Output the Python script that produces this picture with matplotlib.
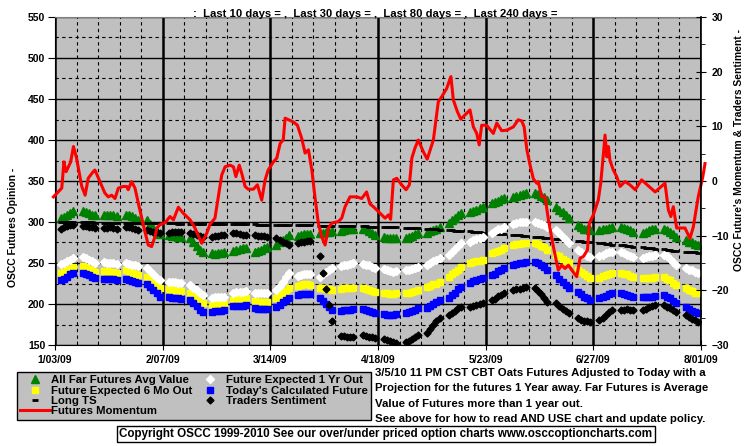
import numpy as np
import pandas as pd
import matplotlib
matplotlib.use('Agg')
import matplotlib.pyplot as plt

plt.rcParams['font.family'] = ['Liberation Sans', 'DejaVu Sans']
plt.rcParams['font.weight'] = 'bold'

# x axis: days counted from Sat 1/03/09
start = pd.Timestamp('2009-01-03')
tick_days = [0, 35, 70, 105, 140, 175, 210]
tick_labels = ['1/03/09', '2/07/09', '3/14/09', '4/18/09', '5/23/09', '6/27/09', '8/01/09']

# one value per trading day, Jan 5 .. Jul 31 (5 per row = one week)
trade_days = pd.bdate_range('2009-01-05', '2009-07-31')

far_futures = [
    305, 306, 308, 311, 314,  313, 312, 311, 309, 308,  308, 309, 309, 308, 307,
    308, 308, 307, 305, 303,  302, 298, 293, 288, 285,  284, 283, 283, 282, 282,
    280, 276, 271, 266, 263,  262, 261, 262, 262, 263,  265, 266, 267, 268, 268,
    263, 265, 266, 268, 270,  272, 275, 278, 281, 284,  283, 284, 285, 285, 285,
    286, 287, 288, 288, 289,  289, 290, 291, 291, 291,  292, 291, 289, 286, 284,
    282, 281, 280, 281, 281,  281, 282, 283, 285, 286,  287, 289, 290, 292, 294,
    299, 302, 305, 308, 311,  312, 314, 315, 317, 318,  323, 325, 326, 328, 329,
    331, 332, 333, 334, 335,  335, 334, 332, 330, 327,  318, 315, 312, 308, 305,
    296, 294, 292, 291, 290,  290, 291, 292, 293, 294,  294, 293, 291, 290, 288,
    287, 288, 290, 291, 292,  292, 290, 288, 285, 282,  278, 276, 275, 273, 272,
]
six_mo = [
    238, 239, 241, 243, 245,  246, 245, 243, 241, 239,  240, 240, 239, 239, 238,
    241, 240, 238, 236, 235,  233, 229, 226, 222, 219,  218, 217, 217, 216, 216,
    213, 210, 207, 204, 201,  199, 199, 200, 200, 201,  205, 206, 206, 206, 207,
    204, 203, 202, 202, 203,  207, 210, 213, 216, 219,  222, 223, 224, 224, 223,
    220, 219, 218, 218, 217,  218, 219, 219, 219, 219,  219, 218, 217, 216, 215,
    214, 213, 212, 212, 213,  213, 214, 215, 216, 217,  221, 222, 224, 225, 227,
    233, 236, 239, 242, 245,  250, 251, 252, 253, 254,  262, 263, 265, 266, 268,
    272, 273, 273, 274, 274,  274, 273, 271, 269, 266,  260, 258, 255, 252, 250,
    241, 239, 237, 234, 232,  232, 234, 235, 237, 238,  238, 237, 236, 234, 233,
    232, 232, 232, 232, 233,  233, 231, 229, 226, 223,  219, 217, 216, 214, 213,
]
one_yr = [
    249, 250, 252, 254, 256,  257, 256, 254, 252, 250,  251, 250, 250, 250, 249,
    250, 249, 248, 247, 246,  244, 240, 236, 232, 229,  227, 227, 227, 226, 226,
    223, 220, 217, 214, 211,  207, 208, 208, 209, 209,  214, 215, 215, 215, 216,
    213, 213, 213, 213, 214,  217, 222, 227, 233, 238,  234, 235, 236, 236, 236,
    233, 236, 239, 241, 244,  246, 247, 248, 249, 250,  249, 248, 247, 245, 244,
    243, 241, 240, 239, 240,  241, 242, 243, 244, 245,  248, 250, 252, 254, 256,
    260, 264, 267, 271, 274,  276, 278, 279, 281, 282,  287, 289, 291, 292, 294,
    298, 299, 300, 300, 300,  300, 299, 298, 296, 294,  290, 286, 282, 278, 274,
    266, 263, 261, 259, 257,  259, 260, 262, 263, 264,  264, 262, 260, 259, 257,
    256, 257, 258, 259, 260,  260, 258, 255, 251, 248,  244, 242, 241, 239, 238,
]
todays_calc = [
    229, 231, 233, 236, 238,  238, 237, 235, 233, 232,  231, 230, 230, 230, 229,
    230, 229, 228, 227, 226,  225, 221, 217, 213, 209,  208, 207, 207, 207, 206,
    205, 201, 197, 193, 190,  190, 191, 191, 192, 193,  197, 198, 198, 198, 199,
    195, 194, 194, 194, 194,  196, 199, 202, 205, 207,  211, 212, 212, 212, 212,
    207, 204, 200, 196, 193,  192, 193, 193, 193, 194,  194, 193, 192, 190, 189,
    188, 187, 187, 187, 188,  189, 190, 192, 193, 195,  195, 197, 200, 202, 205,
    207, 211, 214, 218, 221,  226, 228, 229, 231, 232,  235, 237, 240, 242, 244,
    248, 249, 250, 250, 251,  251, 250, 248, 245, 241,  235, 231, 227, 223, 219,
    215, 212, 209, 207, 205,  207, 209, 210, 212, 213,  213, 212, 211, 210, 209,
    209, 209, 209, 209, 210,  211, 209, 207, 204, 201,  196, 194, 192, 190, 189,
]
long_ts = [
    300.0, 299.9, 299.9, 299.8, 299.7,  299.6, 299.5, 299.5, 299.4, 299.3,
    299.3, 299.2, 299.1, 299.1, 299.0,  299.0, 298.9, 298.9, 298.8, 298.7,
    298.7, 298.6, 298.6, 298.5, 298.4,  298.4, 298.3, 298.2, 298.1, 298.0,
    298.0, 297.9, 297.8, 297.7, 297.6,  297.6, 297.5, 297.5, 297.4, 297.3,
    297.3, 297.2, 297.2, 297.1, 297.0,  297.0, 296.9, 296.8, 296.7, 296.6,
    296.6, 296.5, 296.4, 296.3, 296.2,  296.2, 296.1, 296.0, 295.9, 295.8,
    295.7, 295.6, 295.5, 295.4, 295.3,  295.2, 295.1, 295.0, 294.9, 294.8,
    294.7, 294.6, 294.5, 294.4, 294.3,  294.2, 294.0, 293.8, 293.6, 293.4,
    293.2, 293.0, 292.7, 292.5, 292.2,  292.0, 291.7, 291.4, 291.0, 290.7,
    290.4, 290.0, 289.6, 289.2, 288.8,  288.5, 288.1, 287.7, 287.3, 286.9,
    286.5, 286.1, 285.7, 285.3, 284.9,  284.5, 284.1, 283.6, 283.2, 282.7,
    282.3, 281.8, 281.3, 280.8, 280.3,  279.8, 279.3, 278.8, 278.2, 277.7,
    277.2, 276.7, 276.2, 275.6, 275.1,  274.6, 274.1, 273.6, 273.0, 272.5,
    272.0, 271.5, 271.0, 270.4, 269.9,  269.4, 268.9, 268.4, 267.8, 267.3,
    266.8, 266.3, 265.8, 265.2, 264.7,  264.0, 263.6, 263.3, 262.9, 262.5,
]
traders_sent = [
    -8.7, -8.5, -8.3, -8.1, -8.0,  -8.2, -8.3, -8.4, -8.5, -8.6,  -8.6, -8.6, -8.5, -8.6, -8.7,
    -8.4, -8.5, -8.6, -8.8, -9.0,  -9.0, -9.1, -9.3, -9.4, -9.5,  -9.5, -9.4, -9.4, -9.3, -9.3,
    -9.5, -9.7, -9.9, -10.1, -10.2,  -10.2, -10.1, -10.0, -9.9, -9.9,  -9.5, -9.6, -9.7, -9.8, -9.9,
    -9.9, -10.0, -10.1, -10.1, -10.2,  -10.4, -10.8, -11.1, -11.4, -11.7,  -11.3, -11.2, -11.1, -11.0, -11.0,
    -13.7, -16.8, -19.7, -22.7, -25.6,  -28.3, -28.4, -28.5, -28.6, -28.6,  -28.2, -28.3, -28.5, -28.6, -28.7,
    -28.9, -29.1, -29.3, -29.5, -29.6,  -29.4, -29.2, -28.9, -28.5, -28.2,  -27.8, -27.1, -26.4, -25.7, -25.1,
    -24.5, -24.1, -23.7, -23.3, -23.0,  -23.0, -22.8, -22.6, -22.5, -22.3,  -21.8, -21.5, -21.1, -20.8, -20.5,
    -20.0, -19.8, -19.7, -19.5, -19.4,  -19.6, -20.1, -20.7, -21.4, -22.1,  -22.3, -22.9, -23.4, -23.8, -24.1,
    -25.1, -25.4, -25.6, -25.7, -25.8,  -25.4, -25.0, -24.5, -24.0, -23.6,  -23.6, -23.6, -23.5, -23.6, -23.6,
    -23.6, -23.4, -23.1, -22.9, -22.7,  -22.7, -23.0, -23.3, -23.6, -24.0,  -24.5, -24.8, -25.2, -25.5, -25.8,
]

# futures momentum, read point by point (day offset, value)
momentum_day = [
    -0.5, 2.2, 2.9, 3.6, 4.2, 5.1, 6.0, 7.0, 8.7, 9.8, 10.8, 12.4, 13.0, 14.6, 16.2, 17.3,
    18.4, 19.5, 20.6, 22.2, 23.3, 23.8, 24.9, 26.0, 27.1, 28.7, 30.3, 31.4, 32.5, 33.1,
    34.1, 35.8, 37.4, 38.5, 40.1, 41.7, 43.9, 45.5, 47.7, 49.3, 50.4, 52.0, 53.1, 54.2,
    55.3, 56.9, 58.0, 58.8, 59.9, 60.7, 61.8, 62.8, 64.5, 65.8, 67.2, 68.3, 69.3, 71.0,
    72.1, 73.2, 74.2, 74.8, 75.9, 77.5, 78.8, 80.2, 81.3, 82.4, 83.5, 84.5, 85.6, 86.7,
    87.8, 88.9, 90.0, 92.1, 93.2, 94.3, 95.9, 98.1, 99.7, 101.3, 102.4, 103.5, 104.6,
    105.7, 107.3, 108.4, 109.1, 110.0, 111.1, 112.7, 114.1, 115.2, 116.0, 117.0, 118.1,
    119.7, 121.0, 123.0, 124.6, 125.7, 127.3, 128.7, 129.5, 130.8, 131.9, 133.3, 134.9,
    136.0, 137.1, 137.9, 138.7, 140.3, 142.5, 143.6, 145.2, 146.9, 149.0, 150.6, 151.7,
    152.5, 153.4, 154.4, 155.5, 156.6, 157.1, 158.2, 159.3, 160.4, 162.0, 163.6, 164.7,
    165.8, 166.9, 168.0, 169.6, 170.7, 171.8, 173.1, 173.7, 175.0, 176.6, 177.4, 178.3,
    178.8, 179.4, 179.9, 180.4, 181.5, 182.6, 183.7, 185.3, 186.9, 188.6, 190.7, 192.9,
    195.1, 196.7, 198.3, 199.4, 200.2, 201.0, 202.1, 204.8, 206.4, 207.5, 209.1, 210.6, 211.3,
]
momentum_val = [
    -2.9, -1.3, 3.5, 1.7, 2.4, 3.5, 6.3, 4.2, -1.0, -2.6, 0.5, 1.7, 2.0, -0.1, -2.2, -2.9,
    -2.6, -3.2, -1.3, -1.0, -1.0, -1.6, -0.1, -1.3, -4.1, -8.0, -11.7, -12.0, -10.2, -8.6,
    -8.0, -7.6, -6.5, -7.1, -4.8, -5.9, -7.1, -8.6, -11.4, -9.6, -7.9, -6.8, -2.9, 1.1,
    2.6, 2.9, 2.6, 0.8, 2.9, 1.4, -1.0, -1.5, -1.5, -0.7, -3.5, 0.2, 2.0, 3.5,
    4.2, 6.9, 7.5, 11.5, 11.2, 10.8, 10.2, 7.8, 5.1, 5.7, 2.0, -2.9, -7.7, -10.2,
    -11.7, -8.6, -7.7, -7.4, -6.8, -4.7, -2.9, -2.9, -3.2, -2.0, -4.2, -4.7, -5.3,
    -5.9, -6.8, -6.2, -7.0, 0.2, 0.5, -0.7, -1.6, -0.7, 4.2, 6.0, 7.5,
    5.4, 4.0, 7.5, 14.5, 15.4, 16.9, 19.1, 14.8, 12.7, 11.3, 12.1, 13.0,
    9.9, 8.7, 6.6, 10.2, 10.2, 8.7, 10.6, 9.2, 9.3, 9.9, 11.2, 11.0,
    9.9, 5.7, 3.0, 0.4, -0.4, -0.1, -2.9, -2.9, -7.1, -12.0, -16.3, -15.4,
    -16.0, -15.4, -16.3, -17.5, -14.1, -13.8, -12.6, -7.7, -6.2, -3.5, -0.4, 5.1,
    8.4, 4.4, 6.3, 3.8, 2.0, 0.8, -1.0, -0.1, -0.7, -1.6, 0.2, -0.9,
    -2.0, -1.2, -0.4, -5.3, -6.5, -4.7, -8.6, -8.6, -10.5, -8.4, -2.9, 0.8, 3.2,
]

x_days = np.array((trade_days - start).days)

fig = plt.figure(figsize=(7.55, 4.46), dpi=100)
ax = fig.add_axes([55 / 755, 1 - 345 / 446, 646 / 755, 328 / 446])
ax.set_facecolor('#C0C0C0')
ax.set_axisbelow(True)

h_far, = ax.plot(x_days, far_futures, ls='none', marker='^', ms=5.5,
                 color='#008000', mec='#008000', label='All Far Futures Avg Value')
h_6mo, = ax.plot(x_days, six_mo, ls='none', marker='s', ms=5,
                 color='#FFFF00', mec='#FFFF00', label='Future Expected 6 Mo Out')
h_ts, = ax.plot(x_days, long_ts, ls='none', marker='_', ms=5, mew=2,
                color='black', label='Long TS')
h_1yr, = ax.plot(x_days, one_yr, ls='none', marker='D', ms=3.8,
                 color='white', mec='white', label='Future Expected 1 Yr Out')
h_calc, = ax.plot(x_days, todays_calc, ls='none', marker='s', ms=4.5,
                  color='#0000FF', mec='#0000FF', label="Today's Calculated Future")

ax.set_xlim(0, 210)
ax.set_ylim(150, 550)
ax.set_xticks(tick_days)
ax.set_xticklabels(tick_labels)
ax.set_xticks(range(0, 211, 7), minor=True)
ax.set_yticks(range(150, 551, 50))
ax.set_yticks(range(175, 551, 50), minor=True)
ax.grid(which='major', axis='x', color='black', lw=1.8)
ax.grid(which='major', axis='y', color='black', lw=1.0)
ax.grid(which='minor', color='black', lw=0.8, ls=(0, (3, 3)))
ax.tick_params(axis='x', which='major', direction='inout', length=7, labelsize=7.5, pad=4)
ax.tick_params(axis='x', which='minor', direction='in', length=3)
ax.tick_params(axis='y', which='major', direction='out', length=5, labelsize=7.5, pad=2)
ax.tick_params(axis='y', which='minor', length=0)
ax.spines['top'].set_color('#808080')
ax.spines['right'].set_visible(False)

ax2 = ax.twinx()
h_sent, = ax2.plot(x_days, traders_sent, ls='none', marker='D', ms=3.5,
                   color='black', label='Traders Sentiment')
h_mom, = ax2.plot(momentum_day, momentum_val, color='#FF0000', lw=2.2,
                  label='Futures Momentum', clip_on=False)
ax2.set_ylim(-30, 30)
ax2.set_yticks(range(-30, 31, 10))
ax2.set_yticks(range(-25, 31, 10), minor=True)
ax2.tick_params(axis='y', which='major', direction='inout', length=7, labelsize=7.5, pad=4)
ax2.tick_params(axis='y', which='minor', direction='out', length=3)
ax2.spines['top'].set_visible(False)
ax2.spines['left'].set_visible(False)
ax2.spines['bottom'].set_visible(False)
ax2.spines['right'].set_linewidth(1.2)

fig.text(375 / 755, 1 - 14 / 446,
         ':  Last 10 days = ,  Last 30 days = ,  Last 80 days = ,  Last 240 days =',
         ha='center', va='center', fontsize=8.1)
fig.text(13 / 755, 1 - 227 / 446, 'OSCC Futures Opinion -', rotation=90,
         ha='center', va='center', fontsize=7.5)
fig.text(739 / 755, 1 - 150 / 446, "OSCC Future's Momentum & Traders Sentiment -",
         rotation=90, ha='center', va='center', fontsize=7.5)

leg = fig.legend(handles=[h_far, h_6mo, h_ts, h_mom, h_1yr, h_calc, h_sent],
                 ncol=2, loc='upper left', bbox_to_anchor=(17 / 755, 1 - 372 / 446),
                 fontsize=8.2, frameon=True, fancybox=False, framealpha=1,
                 facecolor='#C0C0C0', edgecolor='black', numpoints=1,
                 handlelength=2.6, handletextpad=0.1, labelspacing=0.02,
                 borderpad=0.3, columnspacing=0.2, borderaxespad=0)
leg.get_frame().set_linewidth(1.0)

notes = ['3/5/10 11 PM CST CBT Oats Futures Adjusted to Today with a',
         'Projection for the futures 1 Year away. Far Futures is Average',
         'Value of Futures more than 1 year out.',
         'See above for how to read AND USE chart and update policy.']
for i, line in enumerate(notes):
    fig.text(375 / 755, 1 - (373 + 15.3 * i) / 446, line, ha='left', va='center', fontsize=8.2)

fig.text(386 / 755, 1 - 434 / 446,
         'Copyright OSCC 1999-2010 See our over/under priced option charts www.osccoptioncharts.com',
         ha='center', va='center', fontsize=8.4,
         bbox=dict(boxstyle='square,pad=0.2', facecolor='white', edgecolor='black', lw=1))

fig.savefig('out.png', dpi=100)
